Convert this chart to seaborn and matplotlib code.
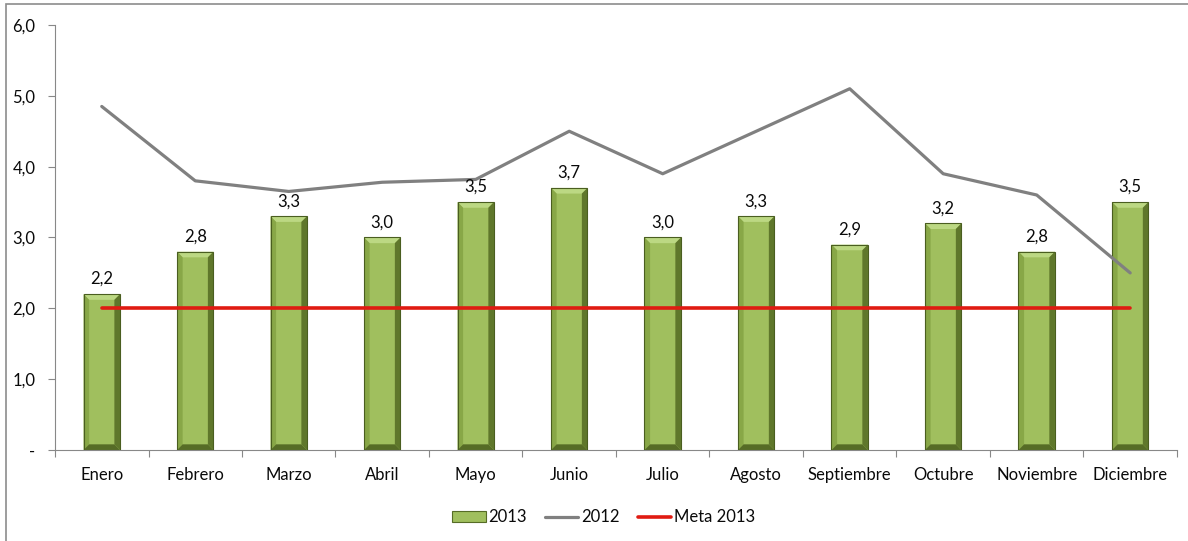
import matplotlib
matplotlib.use("Agg")
import matplotlib.pyplot as plt
from matplotlib.patches import Polygon, Rectangle, Patch
from matplotlib.lines import Line2D
import numpy as np
import pandas as pd
import seaborn as sns

meses = ["Enero", "Febrero", "Marzo", "Abril", "Mayo", "Junio", "Julio",
         "Agosto", "Septiembre", "Octubre", "Noviembre", "Diciembre"]
valores_2013 = [2.2, 2.8, 3.3, 3.0, 3.5, 3.7, 3.0, 3.3, 2.9, 3.2, 2.8, 3.5]
valores_2012 = [4.85, 3.8, 3.65, 3.78, 3.82, 4.5, 3.9, 4.5, 5.1, 3.9, 3.6, 2.5]
meta_2013 = [2.0] * 12
y_ticks = [0, 1, 2, 3, 4, 5, 6]
y_labels = ["-", "1,0", "2,0", "3,0", "4,0", "5,0", "6,0"]

sns.set_theme(style="white")
plt.rcParams["font.family"] = ["Lato", "DejaVu Sans"]
plt.rcParams["text.color"] = "#0a0a0a"
plt.rcParams["xtick.color"] = "#0a0a0a"
plt.rcParams["ytick.color"] = "#0a0a0a"

df = pd.DataFrame({"mes": meses, "pos": np.arange(len(meses)),
                   "v2013": valores_2013, "v2012": valores_2012,
                   "meta": meta_2013})

fig = plt.figure(figsize=(11.88, 5.41), dpi=100)
ax = fig.add_axes([0.0463, 0.1682, 0.9444, 0.7856])

GREEN = "#a0bf5e"
FS = 12
sns.barplot(data=df, x="mes", y="v2013", color=GREEN, saturation=1,
            width=0.39, ax=ax, zorder=2, linewidth=0)

# bevelled look for each bar
bx = 0.06
by = 0.08
for p in ax.patches:
    x0 = p.get_x()
    w = p.get_width()
    h = p.get_height()
    x1 = x0 + w
    faces = [
        ([(x0, h), (x1, h), (x1 - bx, h - by), (x0 + bx, h - by)], "#bcd883"),
        ([(x0, 0), (x0, h), (x0 + bx, h - by), (x0 + bx, by)], "#88a747"),
        ([(x1, 0), (x1, h), (x1 - bx, h - by), (x1 - bx, by)], "#5f772b"),
        ([(x0, 0), (x1, 0), (x1 - bx, by), (x0 + bx, by)], "#566c26"),
    ]
    for pts, c in faces:
        ax.add_patch(Polygon(pts, closed=True, facecolor=c, edgecolor="none",
                             zorder=2.5))
    ax.add_patch(Rectangle((x0, 0), w, h, facecolor="none",
                           edgecolor="#4a5e20", linewidth=0.8, zorder=2.6))
    ax.text(x0 + w / 2, h + 0.1, f"{h:.1f}".replace(".", ","),
            ha="center", va="bottom", fontsize=FS, zorder=5)

sns.lineplot(data=df, x="pos", y="v2012", color="#808080", linewidth=2.3,
             ax=ax, zorder=3)
sns.lineplot(data=df, x="pos", y="meta", color="#e01b12", linewidth=2.6,
             ax=ax, zorder=4)

ax.set_xlim(-0.5, len(meses) - 0.5)
ax.set_ylim(0, 6)
ax.set_yticks(y_ticks)
ax.set_yticklabels(y_labels, fontsize=FS)
ax.set_xticks(np.arange(len(meses)))
ax.set_xticklabels(meses, fontsize=FS)
ax.set_xlabel("")
ax.set_ylabel("")
ax.tick_params(axis="x", length=0, pad=12)
ax.tick_params(axis="y", length=5, width=0.8, color="#888888", pad=9, left=True)

# boundary ticks between categories
ax.set_xticks(np.arange(-0.5, len(meses)), minor=True)
ax.tick_params(axis="x", which="minor", length=5, width=0.8, color="#888888",
               bottom=True)

for side in ["top", "right"]:
    ax.spines[side].set_visible(False)
for side in ["left", "bottom"]:
    ax.spines[side].set_color("#888888")
    ax.spines[side].set_linewidth(0.8)

handles = [
    Patch(facecolor=GREEN, edgecolor="#566c26", linewidth=0.8),
    Line2D([0], [0], color="#808080", linewidth=2.3),
    Line2D([0], [0], color="#e01b12", linewidth=2.6),
]
fig.legend(handles, ["2013", "2012", "Meta 2013"], loc="center",
           bbox_to_anchor=(0.508, 0.044), ncol=3, frameon=False,
           fontsize=FS, handlelength=2.0, handletextpad=0.15,
           columnspacing=1.1, handleheight=0.6)

# chart frame
fig.patches.append(Rectangle((6 / 1188, -0.1), 1.2, 0.1 + (1 - 4 / 541),
                             transform=fig.transFigure, facecolor="none",
                             edgecolor="#8c8c8c", linewidth=1.2,
                             figure=fig, zorder=0))

fig.savefig("out.png", dpi=100)
